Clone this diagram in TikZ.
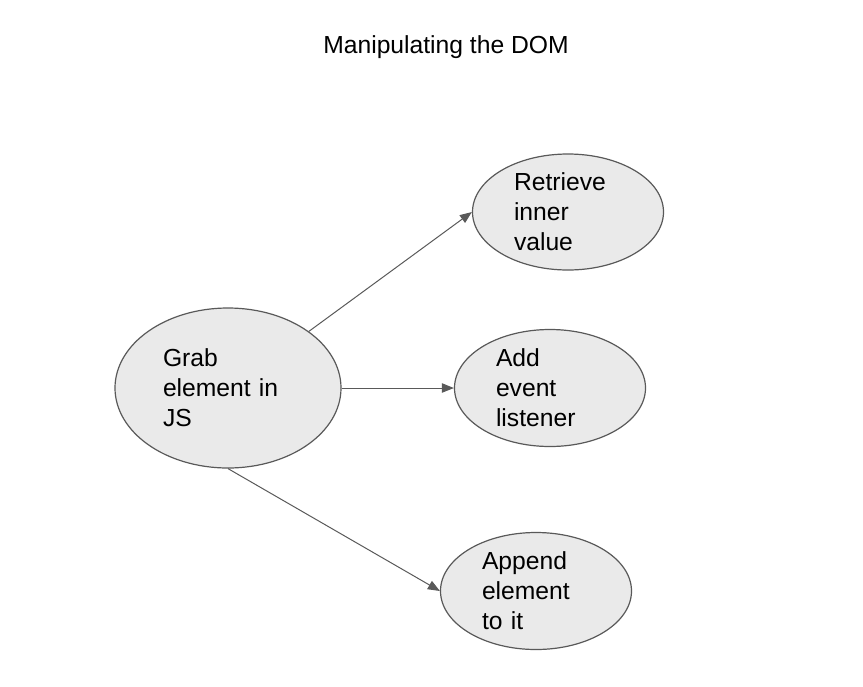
\documentclass[tikz,border=0pt]{standalone}
\usepackage{fontspec}
\setmainfont{Liberation Sans}
\usetikzlibrary{arrows.meta, shapes.geometric}

\definecolor{bubblefill}{HTML}{EAEAEA}
\definecolor{bubbleline}{HTML}{595959}

\tikzset{
	bubble/.style={ellipse, draw=bubbleline, fill=bubblefill, line width=0.9pt, inner xsep=0pt, inner ysep=-3pt,
		align=left, font=\fontsize{18.5}{22.5}\selectfont},
	link/.style={-{Triangle[length=9pt, width=7pt]}, draw=bubbleline, line width=0.75pt}
}

\begin{document}
\begin{tikzpicture}[x=0.75pt, y=-0.75pt]
	\useasboundingbox (0,0) rectangle (863,686);

	%title
	\node (title) at (446,47) {\fontsize{18.5}{22}\selectfont Manipulating the DOM};

	%ellipses
	\node[bubble, minimum width=226*0.75pt, minimum height=160*0.75pt, text width=130*0.75pt] (grab)     at (228,388) {Grab\\element in\\JS};
	\node[bubble, minimum width=191*0.75pt, minimum height=116*0.75pt, text width=108*0.75pt] (retrieve) at (568,212) {Retrieve\\inner\\value};
	\node[bubble, minimum width=191*0.75pt, minimum height=117*0.75pt, text width=108*0.75pt] (listen)   at (550,388) {Add\\event\\listener};
	\node[bubble, minimum width=191*0.75pt, minimum height=117*0.75pt, text width=108*0.75pt] (append)   at (536,591) {Append\\element\\to it};

	%arrows
	\draw[link] (grab.35)    -- (retrieve.west);
	\draw[link] (grab.east)  -- (listen.west);
	\draw[link] (grab.south) -- (append.west);
\end{tikzpicture}
\end{document}
